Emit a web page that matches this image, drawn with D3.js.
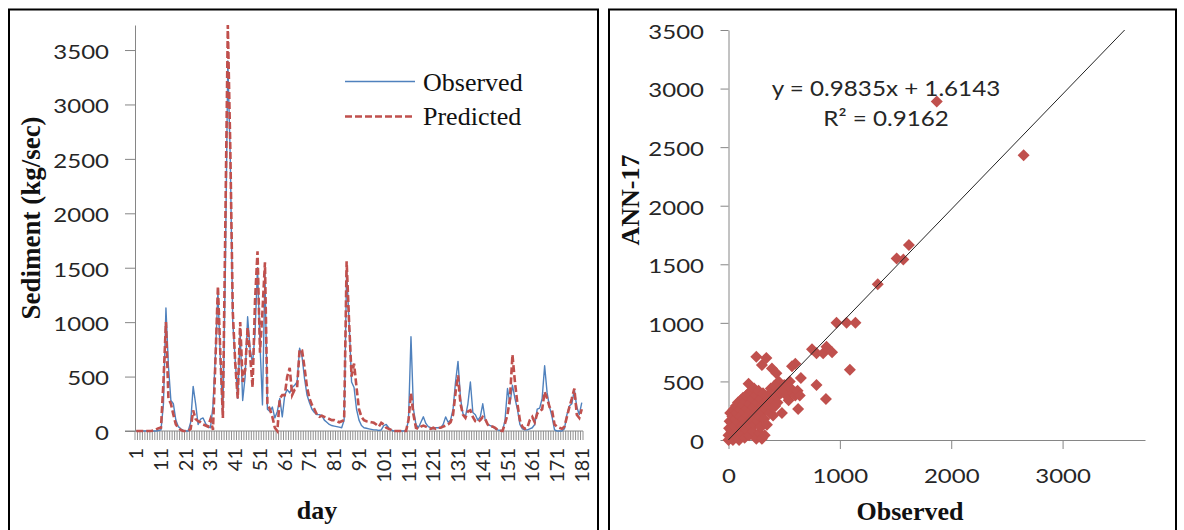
<!DOCTYPE html>
<html><head><meta charset="utf-8">
<script src="https://cdn.jsdelivr.net/npm/d3@7"></script>
<style>body{margin:0;background:#fff} svg{display:block}</style>
</head><body><svg id="c" width="1184" height="530"></svg>
<script>
// ---------- data ----------
const days = d3.range(1, 182);
const observed = [0,0,0,0,0,0,0,0,0,5, 10,250,1130,600,280,250,100,40,20,5,
  0,0,80,410,250,60,110,120,70,40, 30,230,700,1280,650,130,1500,3400,2500,1000,
  650,300,900,280,500,1050,750,620,900,1500, 800,240,1450,200,180,220,120,180,300,130,
  330,380,350,400,420,450,760,680,480,330, 260,200,170,150,150,140,100,80,60,50,
  45,40,35,30,100,1480,1000,450,400,200, 100,50,30,25,20,15,10,10,5,10,
  50,60,30,10,0,0,0,0,0,0, 100,866,200,60,30,80,130,70,40,30,
  20,30,30,30,60,130,80,100,200,450, 640,300,160,130,250,450,170,150,100,130,
  250,100,60,50,40,20,10,5,0,100, 390,250,420,300,200,60,20,10,10,20,
  30,60,200,210,300,600,350,220,130,10, 0,0,0,20,150,230,250,380,220,150, 260];
const predicted = [0,0,0,0,0,0,0,5,15,25, 30,450,1000,300,250,150,60,30,10,0,
  0,0,20,190,110,90,80,60,50,40, 110,10,650,1330,700,120,1900,3730,2600,1100,
  620,300,1000,450,560,950,700,400,1200,1650, 720,1100,1550,250,200,130,30,0,300,330,
  330,500,580,330,380,400,750,740,580,400, 300,240,200,150,130,140,130,120,110,100,
  100,90,80,90,100,1560,1000,500,620,400, 200,130,100,90,85,80,75,60,40,75,
  60,30,20,10,0,0,0,0,0,0, 100,346,150,30,20,40,50,40,30,20,
  30,20,30,30,40,50,60,80,150,350, 510,250,150,120,180,190,130,90,80,100,
  130,110,60,40,40,30,10,5,0,70, 150,300,700,450,250,100,40,20,30,100,
  130,80,160,180,200,360,300,220,190,60, 40,30,20,40,130,220,300,390,150,120, 200];
const dayLabels = d3.range(1, 182, 10);
const leftYTicks = [0,500,1000,1500,2000,2500,3000,3500];
const seriesNames = ["Observed", "Predicted"];

const scatterObs = [1870,2650,1620,1510,1570,1340,970,1060,1140,1090,750,790,850,880,930,790,875,625,600,650,610,520,180,250,340,300,390,430,450,430,400,480,540,420,500,550,570,
  0,0,5,10,15,20,25,30,35,40,45,50,55,60,65,70,75,80,85,90,95,100,105,110,115,120,125,130,135,140,145,150,155,160,165,170,175,180,185,190,195,200,205,210,215,220,225,230,235,240,245,250,255,260,265,270,275,280,285,290,295,300,305,310,320,325,330,340,345,350,360,370,380,390,400,410,420,440,450,470,500,520,550,580,600,620,640];
const scatterPred = [2890,2430,1665,1550,1540,1330,1000,1000,1000,600,775,740,740,797,750,470,350,265,650,530,410,430,480,710,700,640,610,570,500,370,210,230,340,290,470,500,630,
  0,40,100,160,230,20,80,140,200,0,260,60,120,180,290,30,230,90,320,150,0,260,200,340,60,120,300,360,180,240,20,330,90,380,270,150,210,400,40,310,120,250,420,180,350,70,280,440,130,220,380,10,320,160,260,420,60,200,350,110,290,10,240,400,180,40,320,260,130,380,300,230,440,350,280,460,380,320,430,400,420,380,450,400,380,420,380];
const rightXTicks = [0,1000,2000,3000];
const rightYTicks = [0,500,1000,1500,2000,2500,3000,3500];
const slope = 0.9835, intercept = 1.6143, r2 = 0.9162;

// ---------- drawing ----------
const svg = d3.select("#c");
const AX = "#868686", TXT = "#262626";
const BLUE = "#4F81BD", RED = "#C0504D";
const SX = 1.2;
const fmt = d3.format("d");

// frames
svg.append("rect").attr("x",9).attr("y",9.5).attr("width",589).attr("height",560)
  .attr("fill","none").attr("stroke","#000").attr("stroke-width",2);
svg.append("rect").attr("x",609).attr("y",9.5).attr("width",567).attr("height",560)
  .attr("fill","none").attr("stroke","#000").attr("stroke-width",2);

// ===== left chart =====
const xL = d3.scaleBand().domain(days).range([135, 583]);
const yL = d3.scaleLinear().domain([0, 3730]).range([431, 25]);
const cx = d => xL(d) + xL.bandwidth()/2;

const gLY = svg.append("g").attr("transform","translate(135,0)")
  .call(d3.axisLeft(yL).tickValues(leftYTicks).tickFormat(fmt).tickSize(10).tickSizeOuter(0));
gLY.select(".domain").attr("stroke",AX);
gLY.selectAll(".tick line").attr("stroke",AX);
gLY.selectAll(".tick text").attr("x", -26/SX).attr("dy","0.42em")
  .attr("transform",`scale(${SX},1)`)
  .style("font-family","Lato").style("font-size","20px").attr("fill",TXT);

// x axis line + category tick marks
const bounds = days.map(d => xL(d)).concat([xL.range()[1]]);
const gLX = svg.append("g");
gLX.append("line").attr("x1",125).attr("x2",583).attr("y1",431).attr("y2",431).attr("stroke",AX);
gLX.selectAll("line.t").data(bounds).join("line").attr("class","t")
  .attr("x1",d=>d).attr("x2",d=>d).attr("y1",431).attr("y2",440)
  .attr("stroke",AX).attr("stroke-width",0.9);
gLX.selectAll("text").data(dayLabels).join("text")
  .attr("transform", d => `translate(${cx(d)+7},448) rotate(-90)`)
  .attr("text-anchor","end")
  .style("font-family","Lato").style("font-size","20px").attr("fill",TXT)
  .text(d => d);

const lineGen = arr => d3.line().x((v,i)=>cx(days[i])).y(v=>yL(v))(arr);
svg.append("path").attr("d", lineGen(observed)).attr("fill","none")
  .attr("stroke",BLUE).attr("stroke-width",1.4).attr("stroke-linejoin","round");
svg.append("path").attr("d", lineGen(predicted)).attr("fill","none")
  .attr("stroke",RED).attr("stroke-width",2.6).attr("stroke-dasharray","7,3");

// legend
const leg = svg.append("g");
leg.append("line").attr("x1",345).attr("x2",415).attr("y1",81.5).attr("y2",81.5)
  .attr("stroke",BLUE).attr("stroke-width",1.4);
leg.append("line").attr("x1",345).attr("x2",415).attr("y1",116.5).attr("y2",116.5)
  .attr("stroke",RED).attr("stroke-width",2.6).attr("stroke-dasharray","7,3");
leg.selectAll("text").data(seriesNames).join("text")
  .attr("x",423).attr("y",(d,i)=>91+i*34)
  .style("font-family","Liberation Serif").style("font-size","26px").attr("fill","#111")
  .text(d=>d);

// titles
svg.append("text").attr("transform","translate(40,218) rotate(-90)").attr("text-anchor","middle")
  .style("font-family","Liberation Serif").style("font-weight","bold").style("font-size","27px")
  .attr("fill","#111").text("Sediment (kg/sec)");
svg.append("text").attr("x",317).attr("y",519).attr("text-anchor","middle")
  .style("font-family","Liberation Serif").style("font-weight","bold").style("font-size","26px")
  .attr("fill","#111").text("day");

// ===== right chart =====
const xR = d3.scaleLinear().domain([0, 3740]).range([728.5, 1145]);
const yR = d3.scaleLinear().domain([0, 3500]).range([440, 30]);

const gRY = svg.append("g").attr("transform","translate(728.5,0)")
  .call(d3.axisLeft(yR).tickValues(rightYTicks).tickFormat(fmt).tickSize(8).tickSizeOuter(0));
gRY.select(".domain").attr("stroke",AX);
gRY.selectAll(".tick line").attr("stroke",AX);
gRY.selectAll(".tick text").attr("x", -24.5/SX).attr("dy","0.42em")
  .attr("transform",`scale(${SX},1)`)
  .style("font-family","Lato").style("font-size","20px").attr("fill",TXT);

const gRX = svg.append("g").attr("transform","translate(0,440)")
  .call(d3.axisBottom(xR).tickValues(rightXTicks).tickFormat(fmt).tickSize(9).tickSizeOuter(0));
gRX.select(".domain").attr("stroke",AX);
gRX.selectAll(".tick line").attr("stroke",AX);
gRX.selectAll(".tick text").attr("y",43).attr("dy",0)
  .attr("transform",`scale(${SX},1)`)
  .style("font-family","Lato").style("font-size","20px").attr("fill",TXT);

// diamonds
const pts = scatterObs.map((o,i)=>[o, scatterPred[i]]);
svg.append("g").selectAll("path").data(pts).join("path")
  .attr("transform", d => `translate(${xR(d[0])},${yR(d[1])})`)
  .attr("d","M0,-6L6,0L0,6L-6,0Z").attr("fill",RED);

// trend line
const xEnd = (3500 - intercept) / slope;
svg.append("line").attr("x1",xR(0)).attr("y1",yR(intercept))
  .attr("x2",xR(xEnd)).attr("y2",yR(slope*xEnd+intercept))
  .attr("stroke","#222").attr("stroke-width",1);

// equation
const eq = svg.append("g").style("font-family","Lato").style("font-size","22px").attr("fill",TXT);
eq.append("text").attr("transform",`translate(886,96) scale(1.1,1)`).attr("text-anchor","middle")
  .text(`y = ${slope}x + ${intercept}`);
eq.append("text").attr("transform",`translate(886,126) scale(1.1,1)`).attr("text-anchor","middle")
  .text(`R² = ${r2}`);

// titles
svg.append("text").attr("transform","translate(639,200) rotate(-90)").attr("text-anchor","middle")
  .style("font-family","Liberation Serif").style("font-weight","bold").style("font-size","26px")
  .attr("fill","#111").text("ANN-17");
svg.append("text").attr("x",910).attr("y",520).attr("text-anchor","middle")
  .style("font-family","Liberation Serif").style("font-weight","bold").style("font-size","26px")
  .attr("fill","#111").text("Observed");
</script></body></html>
